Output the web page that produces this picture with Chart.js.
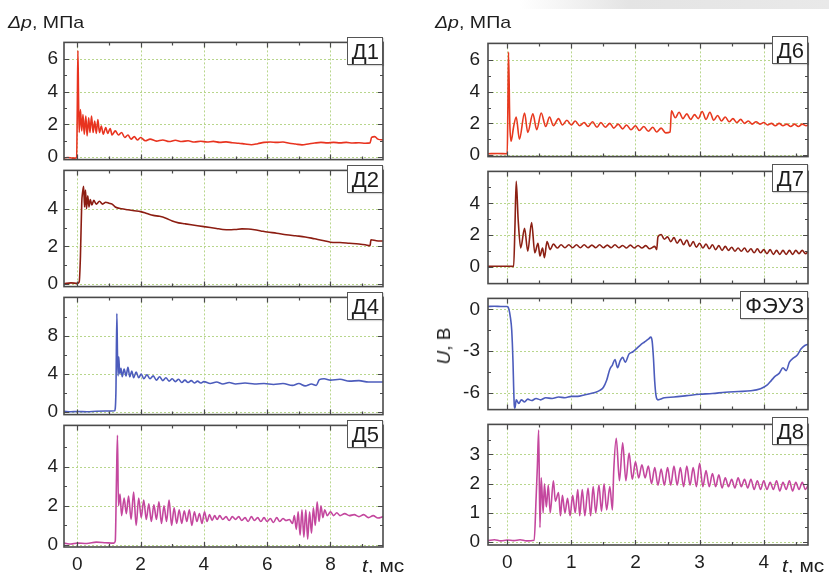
<!DOCTYPE html>
<html>
<head>
<meta charset="utf-8">
<script src="https://cdn.jsdelivr.net/npm/chart.js@4.4.0/dist/chart.umd.min.js"></script>
<style>
  body { margin: 0; width: 829px; height: 573px; overflow: hidden; position: relative; background: #fff;
         font-family: "Liberation Sans", Arial, sans-serif; color: #1e1e1e; }
  canvas { position: absolute; }
  .axlbl { position: absolute; font-size: 17px; white-space: nowrap; transform-origin: left center; }
  .box { position: absolute; box-sizing: border-box; height: 28px; line-height: 27px; padding: 0 3px 0 4px;
         background: #fff; border: 1px solid #555; font-size: 22px; box-shadow: 1px 1px 1px rgba(0,0,0,0.15); }
  .shade { position: absolute; left: 520px; top: 0; width: 309px; height: 9px;
           background: linear-gradient(to right, rgba(228,228,228,0), #e4e4e4 35%, #e9e9e9); }
</style>
</head>
<body>
<div class="shade"></div>
<script>
// tick labels
const tL = [0, 2, 4, 6, 8];
const tR = [0, 1, 2, 3, 4];

// pressure / voltage traces, [t (ms), value]
const d1 = [[-0.42,-0.05],[-0.3,-0.02],[-0.15,-0.06],[-0.02,-0.03],[0.0,3.0],[0.02,6.5],[0.04,3.5],[0.06,1.5],[0.1,2.9],[0.14,1.6],[0.18,2.6],[0.22,1.4],[0.27,2.5],[0.31,1.3],[0.36,2.4],[0.4,1.5],[0.45,2.5],[0.5,1.5],[0.55,2.2],[0.6,1.45],[0.65,2.3],[0.7,1.5],[0.76,1.9],[0.82,1.4],[0.9,1.8],[0.96,1.45],[1.04,1.75],[1.1,1.35],[1.2,1.6],[1.3,1.35],[1.4,1.5],[1.5,1.2],[1.6,1.35],[1.7,1.1],[1.8,1.25],[1.9,1.05],[2.0,1.2],[2.15,1.0],[2.3,1.1],[2.5,0.98],[2.7,1.05],[2.9,0.95],[3.1,1.03],[3.3,0.95],[3.5,1.0],[3.7,0.92],[3.9,0.97],[4.1,0.92],[4.3,0.96],[4.5,0.9],[4.7,0.93],[4.9,0.88],[5.1,0.85],[5.3,0.8],[5.5,0.76],[5.7,0.82],[5.9,0.9],[6.1,0.92],[6.3,0.9],[6.5,0.92],[6.7,0.85],[6.9,0.8],[7.1,0.75],[7.3,0.8],[7.5,0.86],[7.7,0.9],[7.9,0.87],[8.1,0.9],[8.3,0.87],[8.5,0.9],[8.7,0.86],[8.9,0.88],[9.1,0.85],[9.25,0.87],[9.3,1.2],[9.4,1.25],[9.5,1.1],[9.66,1.05]];
const d2 = [[-0.42,0.0],[-0.2,0.05],[0.0,0.02],[0.06,0.1],[0.1,1.5],[0.14,4.3],[0.17,4.9],[0.2,5.2],[0.23,4.1],[0.26,5.0],[0.29,4.0],[0.33,4.7],[0.37,4.1],[0.41,4.5],[0.46,4.2],[0.52,4.45],[0.6,4.25],[0.7,4.4],[0.8,4.25],[0.9,4.35],[1.0,4.3],[1.1,4.25],[1.2,4.1],[1.4,4.0],[1.6,3.95],[1.8,3.9],[2.0,3.85],[2.2,3.75],[2.4,3.65],[2.6,3.6],[2.8,3.5],[3.0,3.35],[3.2,3.25],[3.4,3.2],[3.6,3.15],[3.8,3.1],[4.0,3.05],[4.2,3.0],[4.4,2.95],[4.6,2.9],[4.8,2.88],[5.0,2.9],[5.2,2.93],[5.4,2.92],[5.6,2.88],[5.8,2.82],[6.0,2.76],[6.3,2.7],[6.6,2.62],[6.9,2.56],[7.2,2.5],[7.5,2.4],[7.8,2.3],[8.0,2.22],[8.3,2.2],[8.6,2.16],[8.9,2.12],[9.1,2.08],[9.25,2.03],[9.28,2.35],[9.45,2.3],[9.66,2.28]];
const d4 = [[-0.42,0.1],[-0.2,0.05],[0.0,0.08],[0.3,0.05],[0.6,0.1],[0.9,0.12],[1.18,0.15],[1.22,2.0],[1.25,10.3],[1.27,6.0],[1.29,3.8],[1.31,5.8],[1.34,4.0],[1.38,4.6],[1.42,3.7],[1.48,4.5],[1.54,3.8],[1.6,4.7],[1.66,3.7],[1.72,4.3],[1.78,3.6],[1.86,4.2],[1.94,3.6],[2.02,4.0],[2.1,3.5],[2.2,3.9],[2.3,3.5],[2.4,3.8],[2.5,3.35],[2.6,3.7],[2.7,3.3],[2.8,3.6],[2.9,3.25],[3.0,3.5],[3.1,3.2],[3.2,3.45],[3.3,3.1],[3.4,3.35],[3.5,3.1],[3.6,3.3],[3.7,3.05],[3.8,3.25],[3.9,3.05],[4.0,3.2],[4.2,3.0],[4.4,3.15],[4.6,2.95],[4.8,3.1],[5.0,2.95],[5.3,3.05],[5.6,2.95],[5.9,3.0],[6.2,2.9],[6.5,3.0],[6.8,2.8],[7.0,3.0],[7.2,2.75],[7.4,2.95],[7.55,2.8],[7.65,3.4],[7.8,3.5],[8.0,3.35],[8.3,3.45],[8.6,3.25],[8.9,3.3],[9.2,3.15],[9.66,3.15]];
const d5 = [[-0.42,0.1],[-0.2,0.05],[0.0,0.1],[0.3,0.08],[0.6,0.15],[0.9,0.12],[1.15,0.1],[1.2,0.2],[1.24,3.5],[1.27,5.6],[1.3,2.0],[1.35,2.6],[1.4,1.5],[1.48,2.4],[1.55,1.6],[1.62,2.5],[1.7,1.3],[1.78,2.7],[1.86,1.0],[1.94,2.4],[2.02,1.4],[2.1,2.3],[2.18,1.3],[2.26,2.1],[2.34,1.2],[2.42,2.05],[2.5,1.3],[2.58,2.2],[2.66,1.1],[2.74,2.0],[2.82,1.2],[2.9,2.3],[2.98,1.0],[3.06,1.9],[3.14,1.1],[3.22,1.8],[3.3,1.1],[3.38,1.75],[3.46,1.2],[3.54,1.8],[3.62,1.0],[3.7,1.7],[3.78,1.2],[3.86,1.6],[3.94,1.1],[4.02,1.7],[4.1,1.2],[4.18,1.55],[4.26,1.25],[4.34,1.5],[4.42,1.3],[4.5,1.5],[4.6,1.3],[4.7,1.45],[4.8,1.25],[4.9,1.45],[5.0,1.3],[5.1,1.45],[5.2,1.25],[5.3,1.4],[5.4,1.2],[5.5,1.45],[5.6,1.25],[5.7,1.4],[5.8,1.2],[5.9,1.4],[6.0,1.2],[6.1,1.35],[6.2,1.15],[6.3,1.4],[6.4,1.2],[6.5,1.35],[6.6,1.25],[6.7,1.3],[6.8,1.1],[6.86,1.5],[6.92,0.8],[6.98,1.7],[7.04,0.5],[7.1,1.8],[7.16,0.4],[7.22,1.8],[7.28,0.3],[7.34,1.7],[7.4,0.6],[7.46,1.9],[7.52,1.0],[7.58,2.2],[7.64,1.2],[7.7,2.0],[7.76,1.4],[7.82,1.8],[7.9,1.5],[8.0,1.7],[8.1,1.5],[8.2,1.65],[8.3,1.5],[8.45,1.6],[8.6,1.5],[8.75,1.55],[8.9,1.45],[9.05,1.55],[9.2,1.4],[9.35,1.5],[9.5,1.38],[9.66,1.45]];
const d6 = [[-0.3,0.08],[-0.15,0.1],[0,0.08],[0.01,3.0],[0.02,6.5],[0.04,2.0],[0.06,0.87],[0.1,1.8],[0.14,2.4],[0.19,1.0],[0.27,2.65],[0.32,1.43],[0.4,2.6],[0.46,1.6],[0.53,2.65],[0.6,1.8],[0.66,2.4],[0.72,1.85],[0.8,2.3],[0.86,1.9],[0.93,2.2],[1.0,1.9],[1.06,2.15],[1.13,1.85],[1.2,2.05],[1.26,1.8],[1.33,2.1],[1.4,1.75],[1.46,2.05],[1.53,1.75],[1.6,2.0],[1.66,1.7],[1.73,1.95],[1.8,1.65],[1.86,1.9],[1.93,1.6],[2.0,1.85],[2.06,1.55],[2.13,1.8],[2.2,1.5],[2.27,1.75],[2.33,1.45],[2.4,1.7],[2.47,1.4],[2.54,1.45],[2.56,2.8],[2.62,2.35],[2.68,2.7],[2.74,2.3],[2.8,2.6],[2.86,2.25],[2.92,2.55],[2.98,2.3],[3.04,2.75],[3.1,2.25],[3.16,2.7],[3.22,2.2],[3.28,2.5],[3.34,2.15],[3.4,2.4],[3.46,2.1],[3.52,2.3],[3.58,2.05],[3.64,2.25],[3.7,2.0],[3.76,2.15],[3.82,1.95],[3.88,2.1],[3.94,1.95],[4.0,2.05],[4.06,1.9],[4.12,2.0],[4.18,1.85],[4.24,2.0],[4.3,1.85],[4.36,1.95],[4.42,1.8],[4.48,1.95],[4.54,1.8],[4.6,1.95],[4.66,1.85],[4.7,1.9]];
const d7 = [[-0.3,0.05],[-0.1,0.06],[0.1,0.05],[0.12,2.5],[0.14,5.38],[0.17,3.0],[0.21,1.2],[0.27,2.43],[0.32,1.0],[0.38,2.8],[0.43,0.9],[0.48,1.5],[0.51,0.7],[0.55,1.2],[0.58,0.6],[0.62,1.6],[0.67,1.1],[0.72,1.45],[0.78,1.2],[0.84,1.4],[0.9,1.22],[0.96,1.4],[1.02,1.22],[1.08,1.4],[1.14,1.22],[1.2,1.4],[1.26,1.22],[1.32,1.38],[1.38,1.22],[1.44,1.4],[1.5,1.22],[1.56,1.38],[1.62,1.22],[1.68,1.4],[1.74,1.22],[1.8,1.36],[1.86,1.2],[1.92,1.38],[1.98,1.2],[2.04,1.36],[2.1,1.2],[2.16,1.35],[2.22,1.15],[2.3,1.3],[2.33,1.1],[2.35,1.9],[2.4,2.05],[2.45,1.75],[2.5,1.9],[2.55,1.6],[2.6,1.85],[2.65,1.5],[2.7,1.75],[2.75,1.4],[2.8,1.7],[2.85,1.3],[2.9,1.6],[2.95,1.25],[3.0,1.5],[3.05,1.2],[3.1,1.45],[3.15,1.15],[3.2,1.4],[3.25,1.1],[3.3,1.35],[3.35,1.05],[3.4,1.3],[3.45,1.05],[3.5,1.25],[3.55,1.0],[3.6,1.2],[3.65,1.0],[3.7,1.2],[3.75,0.95],[3.8,1.15],[3.85,0.9],[3.9,1.15],[3.95,0.9],[4.0,1.1],[4.05,0.85],[4.1,1.1],[4.15,0.8],[4.2,1.05],[4.25,0.8],[4.3,1.05],[4.35,0.8],[4.4,1.05],[4.45,0.8],[4.5,1.05],[4.55,0.85],[4.6,1.05],[4.65,0.85],[4.7,1.0]];
const fey3 = [[-0.3,0.2],[-0.2,0.22],[-0.1,0.2],[0,0.2],[0.02,0.1],[0.05,-0.6],[0.07,-1.5],[0.09,-3.8],[0.1,-5.6],[0.11,-6.9],[0.12,-7.1],[0.14,-6.5],[0.18,-6.75],[0.22,-6.5],[0.27,-6.65],[0.32,-6.45],[0.38,-6.55],[0.45,-6.4],[0.52,-6.5],[0.6,-6.35],[0.7,-6.4],[0.8,-6.3],[0.9,-6.35],[1.0,-6.25],[1.1,-6.25],[1.2,-6.15],[1.3,-6.05],[1.38,-5.95],[1.45,-5.8],[1.5,-5.6],[1.55,-5.1],[1.6,-4.3],[1.64,-4.0],[1.68,-3.6],[1.72,-4.2],[1.76,-3.7],[1.8,-3.45],[1.84,-3.8],[1.9,-3.2],[1.96,-3.05],[2.02,-2.8],[2.08,-2.55],[2.14,-2.35],[2.2,-2.15],[2.24,-2.0],[2.26,-2.3],[2.28,-3.5],[2.3,-5.2],[2.32,-6.2],[2.35,-6.5],[2.45,-6.35],[2.6,-6.3],[2.8,-6.2],[3.0,-6.1],[3.2,-6.05],[3.4,-5.95],[3.6,-5.9],[3.8,-5.85],[3.95,-5.7],[4.05,-5.45],[4.12,-5.1],[4.18,-4.8],[4.24,-4.6],[4.3,-4.2],[4.35,-4.4],[4.4,-3.8],[4.46,-3.5],[4.52,-3.3],[4.58,-2.85],[4.64,-2.6],[4.7,-2.5]];
const d8 = [[-0.3,0.05],[-0.2,0.08],[-0.1,0.04],[0,0.07],[0.1,0.05],[0.2,0.08],[0.3,0.04],[0.42,0.06],[0.45,1.5],[0.47,2.6],[0.49,3.84],[0.51,0.5],[0.53,2.2],[0.56,1.0],[0.58,2.0],[0.61,1.2],[0.64,1.95],[0.67,1.0],[0.72,2.1],[0.75,1.4],[0.8,1.7],[0.83,0.9],[0.86,1.6],[0.9,1.0],[0.94,1.5],[0.98,0.9],[1.02,1.6],[1.06,1.0],[1.1,1.8],[1.13,0.9],[1.17,1.8],[1.21,0.9],[1.26,1.85],[1.3,0.9],[1.34,1.9],[1.38,1.0],[1.43,1.95],[1.47,1.05],[1.51,2.0],[1.55,1.1],[1.6,1.9],[1.64,1.1],[1.66,2.4],[1.7,3.55],[1.75,2.1],[1.8,3.4],[1.85,2.1],[1.9,3.05],[1.95,2.15],[2.0,2.75],[2.05,2.2],[2.1,2.65],[2.15,2.2],[2.2,2.6],[2.25,2.0],[2.3,2.55],[2.35,1.95],[2.4,2.5],[2.45,1.95],[2.5,2.55],[2.55,1.95],[2.6,2.6],[2.65,1.95],[2.7,2.55],[2.75,1.9],[2.8,2.6],[2.85,1.95],[2.9,2.55],[2.95,1.9],[3.0,2.7],[3.05,1.9],[3.1,2.45],[3.15,1.9],[3.2,2.35],[3.25,1.9],[3.3,2.3],[3.35,1.85],[3.4,2.2],[3.45,1.9],[3.5,2.15],[3.55,1.85],[3.6,2.2],[3.65,1.9],[3.7,2.15],[3.75,1.85],[3.8,2.15],[3.85,1.8],[3.9,2.1],[3.95,1.8],[4.0,2.1],[4.05,1.8],[4.1,2.05],[4.15,1.8],[4.2,2.1],[4.25,1.75],[4.3,2.05],[4.35,1.8],[4.4,2.1],[4.45,1.75],[4.5,2.05],[4.55,1.8],[4.6,2.05],[4.65,1.8],[4.7,2.0]];

// column layout
const L = { left: 0, width: 400, plotLeft: 64, plotRight: 383, xMin: -0.42, xMax: 9.66, xTicks: tL, xStep: 2, pad: 6 };
const R = { left: 420, width: 409, plotLeft: 488, plotRight: 808, xMin: -0.3, xMax: 4.69, xTicks: tR, xStep: 1, pad: 8 };

const panels = [
  { col: L, name: 'Д1', data: d1, color: '#e8331f', top: 37, bottom: 165, yMin: -0.15, yMax: 7, yTicks: [0, 2, 4, 6], yStep: 2 },
  { col: L, name: 'Д2', data: d2, color: '#8c1d12', top: 165, bottom: 292, yMin: -0.15, yMax: 6.05, yTicks: [0, 2, 4], yStep: 2 },
  { col: L, name: 'Д4', data: d4, color: '#4c5cbc', top: 292, bottom: 420, yMin: -0.25, yMax: 12, yTicks: [0, 4, 8], yStep: 4 },
  { col: L, name: 'Д5', data: d5, color: '#c4479e', top: 420, bottom: 547, yMin: -0.1, yMax: 6.1, yTicks: [0, 2, 4], yStep: 2, showX: true },
  { col: R, name: 'Д6', data: d6, color: '#e8391f', top: 36, bottom: 164, yMin: -0.1, yMax: 7.05, yTicks: [0, 2, 4, 6], yStep: 2 },
  { col: R, name: 'Д7', data: d7, color: '#8c2014', top: 164, bottom: 291, yMin: -1.03, yMax: 6, yTicks: [0, 2, 4], yStep: 2 },
  { col: R, name: 'ФЭУ3', data: fey3, color: '#4c5cbc', top: 291, bottom: 417, yMin: -7.2, yMax: 0.78, yTicks: [0, -3, -6], yStep: 3 },
  { col: R, name: 'Д8', data: d8, color: '#c4479e', top: 417, bottom: 545, yMin: -0.1, yMax: 4.03, yTicks: [0, 1, 2, 3], yStep: 1, showX: true }
];

const tickFont = { family: '"Liberation Sans", Arial, sans-serif', size: 19 };

// major + minor positions strictly inside the range
function marks(ticks, step, min, max) {
  const out = [];
  ticks.forEach(v => {
    out.push([v, 5]);
    [v - step / 2, v + step / 2].forEach(m => {
      if (!out.some(o => Math.abs(o[0] - m) < 1e-9) && !ticks.includes(m)) out.push([m, 3]);
    });
  });
  const eps = (max - min) * 0.01;
  return out.filter(o => o[0] > min + eps && o[0] < max - eps);
}

function makePanel(p) {
  const c = p.col;
  const padT = 12, padB = p.showX ? 2 : 12, xH = p.showX ? 28 : 0;
  const h = (p.bottom - p.top) + padT + padB + xH;
  const cv = document.createElement('canvas');
  cv.width = c.width; cv.height = h;
  cv.style.left = c.left + 'px';
  cv.style.top = (p.top - padT) + 'px';
  document.body.appendChild(cv);

  const xMarks = marks(c.xTicks, c.xStep, c.xMin, c.xMax);
  const yMarks = marks(p.yTicks, p.yStep, p.yMin, p.yMax);

  const deco = {
    id: 'deco',
    beforeDatasetsDraw(chart) {
      const { ctx, chartArea: a, scales: { x, y } } = chart;
      ctx.save();
      ctx.strokeStyle = '#b8d68c';
      ctx.lineWidth = 1;
      ctx.setLineDash([2, 2]);
      ctx.beginPath();
      c.xTicks.forEach(v => {
        const px = Math.round(x.getPixelForValue(v)) + 0.5;
        ctx.moveTo(px, a.top); ctx.lineTo(px, a.bottom);
      });
      p.yTicks.forEach(v => {
        const py = Math.round(y.getPixelForValue(v)) + 0.5;
        ctx.moveTo(a.left, py); ctx.lineTo(a.right, py);
      });
      ctx.stroke();
      ctx.restore();
    },
    afterDatasetsDraw(chart) {
      const { ctx, chartArea: a, scales: { x, y } } = chart;
      ctx.save();
      ctx.strokeStyle = '#4a4a4a';
      ctx.lineWidth = 1.2;
      ctx.beginPath();
      xMarks.forEach(([v, len]) => {
        const px = Math.round(x.getPixelForValue(v)) + 0.5;
        ctx.moveTo(px, a.top); ctx.lineTo(px, a.top + len);
        ctx.moveTo(px, a.bottom); ctx.lineTo(px, a.bottom - len);
      });
      yMarks.forEach(([v, len]) => {
        const py = Math.round(y.getPixelForValue(v)) + 0.5;
        ctx.moveTo(a.left, py); ctx.lineTo(a.left + len, py);
        ctx.moveTo(a.right, py); ctx.lineTo(a.right - len, py);
      });
      ctx.stroke();
      ctx.lineWidth = 1.6;
      ctx.strokeRect(a.left, a.top, a.right - a.left, a.bottom - a.top);
      ctx.restore();
    }
  };

  new Chart(cv, {
    type: 'line',
    data: {
      datasets: [{
        data: p.data.map(([t, v]) => ({ x: t, y: v })),
        borderColor: p.color,
        borderWidth: 1.6,
        pointRadius: 0,
        cubicInterpolationMode: 'monotone',
        clip: 0
      }]
    },
    options: {
      responsive: false,
      animation: false,
      devicePixelRatio: 1,
      events: [],
      layout: { padding: { top: padT, bottom: padB, left: 0, right: c.width - (c.plotRight - c.left) } },
      plugins: { legend: { display: false }, tooltip: { enabled: false } },
      scales: {
        x: {
          type: 'linear', min: c.xMin, max: c.xMax,
          afterBuildTicks: s => { s.ticks = c.xTicks.map(v => ({ value: v })); },
          afterFit: s => { s.height = xH; },
          grid: { display: false, drawTicks: false },
          border: { display: false },
          ticks: { display: !!p.showX, font: tickFont, color: '#1e1e1e', padding: 6, maxRotation: 0 }
        },
        y: {
          type: 'linear', min: p.yMin, max: p.yMax,
          afterBuildTicks: s => { s.ticks = p.yTicks.map(v => ({ value: v })); },
          afterFit: s => { s.width = c.plotLeft - c.left; },
          grid: { display: false, drawTicks: false },
          border: { display: false },
          ticks: { font: tickFont, color: '#1e1e1e', padding: c.pad }
        }
      }
    },
    plugins: [deco]
  });

  const box = document.createElement('div');
  box.className = 'box';
  box.textContent = p.name;
  box.style.right = (829 - c.plotRight) + 'px';
  box.style.top = p.top + 'px';
  document.body.appendChild(box);
}

panels.forEach(makePanel);

// axis captions
function caption(html, css) {
  const d = document.createElement('div');
  d.className = 'axlbl';
  d.innerHTML = html;
  Object.assign(d.style, css);
  document.body.appendChild(d);
}
caption('<i>Δp</i>, МПа', { left: '8px', top: '13px', transform: 'scaleX(1.15)' });
caption('<i>Δp</i>, МПа', { left: '435px', top: '13px', transform: 'scaleX(1.15)' });
caption('<i>t</i>, мс', { left: '362px', top: '555px', fontSize: '19px', transform: 'scaleX(1.1)' });
caption('<i>t</i>, мс', { left: '782px', top: '555px', fontSize: '19px', transform: 'scaleX(1.1)' });
caption('<i>U</i>, В', { left: '444px', top: '346px', fontSize: '19px', transform: 'translate(-50%,-50%) rotate(-90deg)', transformOrigin: 'center' });
</script>
</body>
</html>
